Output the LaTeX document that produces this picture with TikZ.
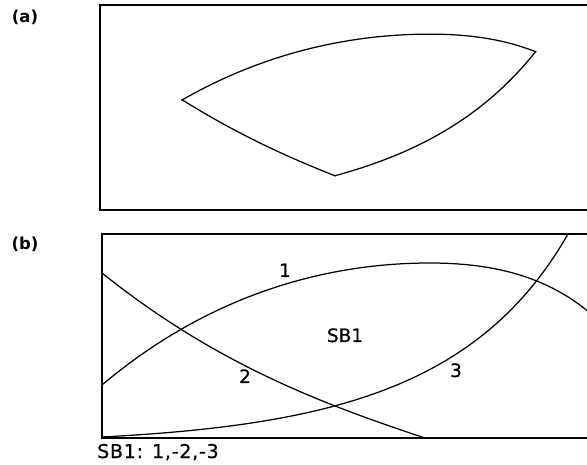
\documentclass[tikz,border=0pt]{standalone}
\usepackage{fontspec}
\setmainfont{DejaVu Sans}
\newfontfamily\lblfont[FakeBold=0.6]{DejaVu Sans}
\newfontfamily\capfont[LetterSpace=4,FakeBold=0.6]{DejaVu Sans}
\begin{document}
\begin{tikzpicture}[x=1pt,y=-1pt,
  frame/.style={line width=1.8pt, line join=miter},
  curve/.style={line width=1.25pt, line join=round},
  lbl/.style={font=\lblfont\fontsize{18.5}{18.5}\selectfont, inner sep=0pt, anchor=base},
  panel/.style={font=\bfseries\fontsize{16.5}{16.5}\selectfont, inner sep=0pt}]
\useasboundingbox (0,0) rectangle (587,465);
\clip (0,0) rectangle (587,465);

\def\curveA{(102,385) .. controls (205,298) and (320,263) .. (430,263) .. controls (490,263) and (545,275) .. (590,313)}
\def\curveB{(102,273) .. controls (212,361) and (315,401.7) .. (425,438)}
\def\curveC{(102,437) .. controls (330,425) and (480,388) .. (568,234)}

% panel labels
\node[panel] (la) at (25,17) {(a)};
\node[panel] (lb) at (25,244) {(b)};

% panel (a)
\draw[frame] (590,5) -- (100,5) -- (100,210) -- (590,210);
\begin{scope}[yshift=229.5pt]
  \clip \curveA -- (590,600) -- (102,600) -- cycle;
  \clip \curveB -- (700,438) -- (700,0) -- (102,0) -- cycle;
  \clip \curveC -- (568,0) -- (0,0) -- (0,437) -- cycle;
  \draw[curve, line width=2.5pt] \curveA;
  \draw[curve, line width=2.5pt] \curveB;
  \draw[curve, line width=2.5pt] \curveC;
\end{scope}

% panel (b)
\draw[frame] (590,234) -- (102,234) -- (102,438) -- (590,438);
\draw[curve] \curveA;
\draw[curve] \curveB;
\draw[curve] \curveC;

\node[lbl] (n1) at (285,277) {1};
\node[lbl] (n2) at (245,383) {2};
\node[lbl] (n3) at (456,377) {3};
\node[lbl] (sb) at (345,342) {SB1};
\node[lbl, anchor=base west, font=\capfont\fontsize{19}{19}\selectfont] (cap) at (97,458) {SB1: 1,-2,-3};
\end{tikzpicture}
\end{document}
